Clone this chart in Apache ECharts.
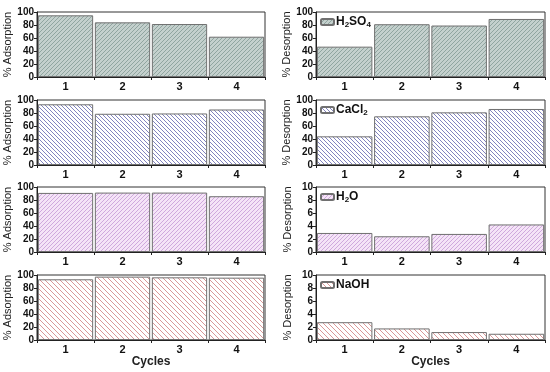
<!DOCTYPE html>
<html><head><meta charset="utf-8">
<script src="https://cdn.jsdelivr.net/npm/echarts@6/dist/echarts.min.js"></script>
<style>html,body{margin:0;padding:0;background:#fff}#c{width:550px;height:372px}</style>
</head><body><div id="c"></div>
<script>
var cycles = ['1','2','3','4'];
var agents = ['H2SO4','CaCl2','H2O','NaOH'];
var adsH2SO4 = [94.9, 84.1, 81.5, 62.0];
var desH2SO4 = [46.7, 81.2, 79.2, 89.3];
var adsCaCl2 = [93.4, 78.8, 79.3, 85.4];
var desCaCl2 = [44.1, 74.9, 81.0, 86.2];
var adsH2O = [90.9, 91.4, 91.4, 85.8];
var desH2O = [2.93, 2.42, 2.78, 4.24];
var adsNaOH = [93.4, 97.5, 96.4, 95.9];
var desNaOH = [2.74, 1.78, 1.22, 0.96];
var desMax = [100, 100, 10, 10];
var desStep = [20, 20, 2, 2];

function hatch(bg, fg, dir, n, w) {
  var c = document.createElement('canvas');
  c.width = n; c.height = n;
  var g = c.getContext('2d');
  if (bg) { g.fillStyle = bg; g.fillRect(0, 0, n, n); }
  g.strokeStyle = fg; g.lineWidth = w;
  g.beginPath();
  if (dir === '/') {
    g.moveTo(-1, n + 1); g.lineTo(n + 1, -1);
    g.moveTo(-1, 1); g.lineTo(1, -1);
    g.moveTo(n - 1, n + 1); g.lineTo(n + 1, n - 1);
  } else {
    g.moveTo(-1, -1); g.lineTo(n + 1, n + 1);
    g.moveTo(n - 1, -1); g.lineTo(n + 1, 1);
    g.moveTo(-1, n - 1); g.lineTo(1, n + 1);
  }
  g.stroke();
  return { image: c, repeat: 'repeat' };
}
var fills = [
  hatch('#c4d0cd', '#8aa09b', '/', 4, 0.9),
  hatch('#ffffff', '#7476b8', '\\', 4, 0.9),
  hatch('#f5e4f7', '#cba2d9', '/', 4, 0.9),
  hatch('#ffffff', '#d68c8c', '\\', 5, 0.9)
];
var adsData = [adsH2SO4, adsCaCl2, adsH2O, adsNaOH];
var desData = [desH2SO4, desCaCl2, desH2O, desNaOH];
var rowTops = [12, 100, 187, 275];
var font = 'Liberation Sans';
var legendRich = {
  n: { fontFamily: font, fontSize: 12, fontWeight: 'bold', color: '#111' },
  s: { fontFamily: font, fontSize: 8, fontWeight: 'bold', color: '#111', verticalAlign: 'bottom', padding: [6, 0, 0, 0] }
};
function legendFmt(name) {
  return name.replace(/(\d)/g, '}{s|$1}{n|').replace(/^/, '{n|') + '}';
}
var grids = [], xAxes = [], yAxes = [], series = [], legends = [];
for (var r = 0; r < 4; r++) {
  for (var side = 0; side < 2; side++) {
    var idx = grids.length;
    var left = side === 0 ? 37 : 316;
    grids.push({ left: left, top: rowTops[r], width: side === 0 ? 228 : 229, height: 65,
      show: true, borderColor: '#333', borderWidth: 1, backgroundColor: 'transparent' });
    xAxes.push({ type: 'category', gridIndex: idx, data: cycles,
      axisLine: { lineStyle: { color: '#222', width: 1 } },
      axisTick: { show: true, length: 3, lineStyle: { color: '#222' } },
      axisLabel: { fontFamily: font, fontWeight: 'bold', fontSize: 11, color: '#111', margin: 4 },
      name: r === 3 ? 'Cycles' : '', nameLocation: 'middle', nameGap: 14,
      nameTextStyle: { fontFamily: font, fontWeight: 'bold', fontSize: 12, color: '#222' } });
    var mx = side === 0 ? 100 : desMax[r];
    var st = side === 0 ? 20 : desStep[r];
    yAxes.push({ type: 'value', gridIndex: idx, min: 0, max: mx, interval: st,
      axisLine: { show: true, lineStyle: { color: '#222', width: 1 } },
      axisTick: { show: true, length: 3, lineStyle: { color: '#222' } },
      splitLine: { show: false },
      axisLabel: { fontFamily: font, fontWeight: 'bold', fontSize: 10, color: '#111', margin: 3 },
      name: side === 0 ? '% Adsorption' : '% Desorption', nameLocation: 'middle',
      nameGap: side === 0 ? 19 : 23,
      nameTextStyle: { fontFamily: font, fontSize: 11, color: '#222' } });
    series.push({ type: 'bar', xAxisIndex: idx, yAxisIndex: idx,
      name: side === 1 ? agents[r] : agents[r] + ' ads',
      data: side === 0 ? adsData[r] : desData[r],
      barCategoryGap: '3%',
      itemStyle: { color: fills[r], borderColor: '#707070', borderWidth: 1 } });
    if (side === 1) {
      legends.push({ data: [agents[r]], left: 320, top: rowTops[r] + 4, padding: 0,
        itemWidth: 13, itemHeight: 6, itemGap: 2,
        formatter: legendFmt,
        textStyle: { rich: legendRich, padding: [0, 0, 0, -3] } });
    }
  }
}
var chart = echarts.init(document.getElementById('c'), null, { renderer: 'canvas' });
chart.setOption({ animation: false, grid: grids, xAxis: xAxes, yAxis: yAxes, series: series, legend: legends });
</script></body></html>
